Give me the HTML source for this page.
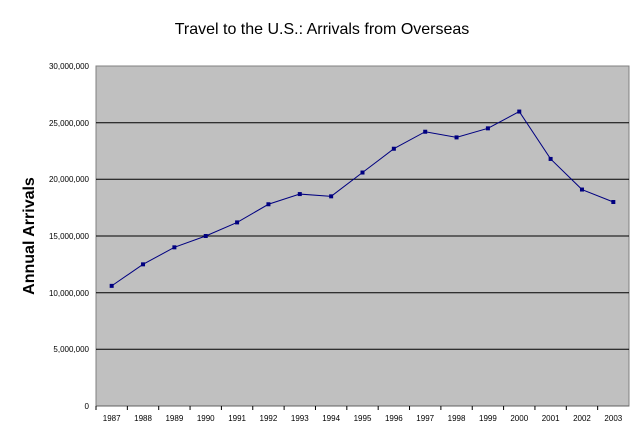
<!DOCTYPE html><html><head><style>body{margin:0;background:#fff}</style></head><body>
<svg width="640" height="438" xmlns="http://www.w3.org/2000/svg" font-family="Liberation Sans, sans-serif">
<text x="322" y="34" font-size="16" text-anchor="middle">Travel to the U.S.: Arrivals from Overseas</text>
<text transform="translate(34,236) rotate(-90)" font-size="16" font-weight="bold" text-anchor="middle">Annual Arrivals</text>
<rect x="96" y="66" width="533" height="340" fill="#c0c0c0" stroke="#808080"/>
<g stroke="#000" stroke-width="1">
<line x1="96" x2="629" y1="122.7" y2="122.7"/><line x1="96" x2="629" y1="179.3" y2="179.3"/><line x1="96" x2="629" y1="236" y2="236"/><line x1="96" x2="629" y1="292.7" y2="292.7"/><line x1="96" x2="629" y1="349.3" y2="349.3"/>
<line x1="96" x2="629" y1="406" y2="406" stroke="#606060"/>
</g>
<g font-size="8" text-anchor="end" fill="#000">
<text x="89" y="69">30,000,000</text><text x="89" y="126">25,000,000</text><text x="89" y="182">20,000,000</text><text x="89" y="239">15,000,000</text><text x="89" y="296">10,000,000</text><text x="89" y="352">5,000,000</text><text x="89" y="409">0</text>
</g>
<g id="x" font-size="8" text-anchor="middle"></g>
<polyline id="l" fill="none" stroke="#000080" stroke-width="1"/>
<g id="m" fill="#000080"></g>
<g id="t" stroke="#000"></g>
</svg>
<script>
var d=[10.6,12.5,14.0,15.0,16.2,17.8,18.7,18.5,20.6,22.7,24.2,23.7,24.5,25.98,21.8,19.1,18.0];
var ns="http://www.w3.org/2000/svg",w=533/17,pts=[];
d.forEach(function(v,i){var x=96+w*(i+0.5),y=406-v*340/30;pts.push(x+","+y);
var r=document.createElementNS(ns,"rect");r.setAttribute("x",x-2);r.setAttribute("y",y-2);r.setAttribute("width",4);r.setAttribute("height",4);document.getElementById("m").appendChild(r);
var t=document.createElementNS(ns,"text");t.setAttribute("x",x);t.setAttribute("y",421);t.textContent=1987+i;document.getElementById("x").appendChild(t);
var l=document.createElementNS(ns,"line");var tx=96+w*i;l.setAttribute("x1",tx);l.setAttribute("x2",tx);l.setAttribute("y1",406);l.setAttribute("y2",410);document.getElementById("t").appendChild(l);});
document.getElementById("l").setAttribute("points",pts.join(" "));
</script>
</body></html>
